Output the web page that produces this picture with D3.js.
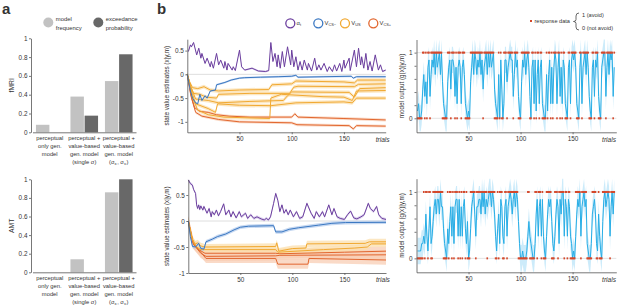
<!DOCTYPE html>
<html lang="en">
<head>
<meta charset="UTF-8">
<title>Model comparison and trial-wise estimates</title>
<script src="https://d3js.org/d3.v7.min.js"></script>
<style>
  body { margin: 0; background: #fff; }
  svg text { font-family: "Liberation Sans", Arial, sans-serif; fill: #333; }
</style>
</head>
<body>
<div id="chart"></div>
<script>
// ---------- panel a: model comparison ----------
const models = ["perc", "single", "dual"];
const modelLabels = [
  ["perceptual", "only gen.", "model"],
  ["perceptual +", "value-based", "gen. model", "(single σ)"],
  ["perceptual +", "value-based", "gen. model", "(σ_x, σ_v)"]
];
const fmriFreq = [0.08, 0.38, 0.545];
const fmriExc  = [0, 0.177, 0.83];
const amtFreq  = [0, 0.14, 0.86];
const amtExc   = [0, 0, 1.0];

// ---------- panel b: state value estimates, [trial, value] ----------
const alphaTop = [[1,0.48],[3,0.62],[4,0.58],[6,0.67],[9,0.41],[11,0.55],[13,0.34],[14,0.44],[17,0.23],[19,0.34],[22,0.16],[23,0.27],[25,0.13],[28,0.44],[30,0.2],[32,0.3],[35,0.13],[36,0.27],[38,0.09],[39,0.23],[43,0.09],[44,0.16],[46,0.08],[50,0.51],[52,0.16],[55,0.09],[62,0.13],[68,0.07],[75,0.06],[78,0.08],[80,0.67],[82,0.27],[84,0.44],[86,0.16],[87,0.41],[89,0.13],[91,0.48],[93,0.16],[96,0.58],[99,0.2],[100,0.51],[102,0.16],[104,0.37],[106,0.09],[108,0.27],[110,0.09],[112,0.3],[115,0.09],[116,0.23],[119,0.07],[122,0.34],[124,0.09],[126,0.2],[128,0.09],[131,0.23],[134,0.06],[136,0.16],[139,0.06],[141,0.2],[143,0.07],[146,0.23],[148,0.06],[150,0.3],[151,0.13],[155,0.34],[156,0.08],[160,0.51],[162,0.16],[164,0.55],[166,0.2],[167,0.37],[169,0.13],[171,0.44],[173,0.09],[175,0.27],[177,0.07],[180,0.41],[183,0.09],[185,0.2],[187,0.06],[190,0.09]];
const csmTop = [[0,0],[3,-0.35],[5,-0.5],[8,-0.6],[10,-0.62],[12,-0.42],[14,-0.55],[17,-0.45],[19,-0.5],[22,-0.35],[27,-0.33],[28,-0.22],[36,-0.17],[42,-0.12],[50,-0.08],[55,-0.07],[70,-0.06],[87,-0.05],[100,-0.04],[104,-0.02],[106,-0.06],[130,-0.05],[157,-0.04],[159,-0.08],[162,-0.05],[190,-0.05]];
const usTop = [
  [[0,0],[2,-0.15],[5,-0.28],[10,-0.3],[16,-0.26],[22,-0.33],[30,-0.35],[50,-0.33],[78,-0.32],[81,-0.22],[100,-0.2],[104,-0.14],[150,-0.16],[160,-0.18],[163,-0.12],[190,-0.12]],
  [[0,0],[3,-0.25],[6,-0.4],[12,-0.42],[18,-0.48],[28,-0.5],[30,-0.42],[60,-0.4],[98,-0.4],[102,-0.27],[106,-0.25],[160,-0.26],[164,-0.21],[190,-0.2]],
  [[0,0],[4,-0.3],[8,-0.52],[20,-0.55],[30,-0.6],[60,-0.57],[92,-0.55],[96,-0.45],[100,-0.37],[155,-0.38],[160,-0.48],[165,-0.3],[190,-0.28]],
  [[0,0],[4,-0.35],[8,-0.62],[20,-0.72],[27,-0.8],[29,-0.62],[50,-0.65],[80,-0.66],[104,-0.6],[150,-0.58],[158,-0.6],[162,-0.5],[190,-0.5]],
  [[0,0],[5,-0.5],[10,-0.75],[20,-0.85],[35,-0.9],[79,-0.93],[80,-0.5],[85,-0.46],[90,-0.42],[130,-0.47],[150,-0.48],[158,-0.55],[162,-0.35],[190,-0.34]]
];
const cspTop = [
  [[0,0],[3,-0.4],[7,-0.7],[12,-0.78],[20,-0.8],[28,-0.85],[40,-0.88],[60,-0.9],[100,-0.9],[103,-0.83],[106,-0.9],[150,-0.93],[190,-0.96]],
  [[0,0],[4,-0.5],[8,-0.8],[14,-0.88],[30,-0.95],[50,-1.0],[100,-1.02],[105,-1.06],[155,-1.08],[159,-1.15],[162,-1.08],[190,-1.09]]
];

const alphaBot = [[0,0.79],[2,0.72],[4,0.69],[5,0.61],[7,0.53],[8,0.31],[9,0.24],[10,0.31],[11,0.22],[12,0.29],[14,0.21],[15,0.28],[18,0.15],[20,0.24],[22,0.08],[23,0.18],[25,0.12],[27,0.21],[29,0.1],[31,0.18],[34,0.33],[36,0.12],[39,0.21],[41,0.08],[43,0.18],[46,0.06],[49,0.18],[51,0.08],[55,0.15],[57,0.05],[60,0.12],[63,0.05],[66,0.08],[70,0.04],[73,0.02],[75,0.05],[77,0.02],[79,0.08],[82,0.34],[84,0.53],[86,0.4],[88,0.18],[90,0.31],[92,0.15],[94,0.22],[96,0.12],[98,0.21],[101,0.08],[104,0.18],[107,0.05],[110,0.08],[114,0.34],[118,0.15],[121,0.05],[123,0.18],[126,0.08],[129,0.18],[131,0.08],[135,0.31],[138,0.12],[140,0.24],[143,0.08],[146,0.05],[150,0.03],[153,0.12],[156,0.19],[159,0.06],[162,0.04],[166,0.08],[169,0.12],[173,0.34],[175,0.24],[178,0.18],[181,0.28],[183,0.12],[186,0.05],[190,0.03]];
const csmBot = [[0,0],[2,-0.3],[4,-0.49],[7,-0.5],[10,-0.43],[12,-0.53],[15,-0.54],[17,-0.4],[23,-0.35],[28,-0.3],[36,-0.25],[44,-0.17],[50,-0.12],[58,-0.1],[82,-0.09],[84,-0.21],[90,-0.21],[97,-0.16],[106,-0.13],[125,-0.08],[138,-0.045],[151,-0.03],[190,-0.025]];
const usBot = [
  [[0,0],[3,-0.3],[6,-0.45],[9,-0.42],[12,-0.48],[16,-0.5],[84,-0.49],[85,-0.42],[87,-0.58],[100,-0.53],[113,-0.52],[114,-0.44],[170,-0.43],[174,-0.4],[190,-0.4]],
  [[0,0],[4,-0.35],[8,-0.5],[12,-0.55],[16,-0.55],[84,-0.55],[86,-0.6],[130,-0.55],[160,-0.52],[172,-0.5],[176,-0.44],[190,-0.44]]
];
const cspBot = [
  [[0,0],[4,-0.4],[10,-0.55],[16,-0.62],[84,-0.62],[88,-0.63],[150,-0.6],[190,-0.58]],
  [[0,0],[5,-0.45],[12,-0.6],[17,-0.72],[84,-0.72],[86,-0.83],[115,-0.83],[116,-0.72],[190,-0.75]],
  [[0,0],[5,-0.45],[12,-0.62],[17,-0.68],[84,-0.67],[88,-0.66],[190,-0.65]]
];
// band half-widths
const ciTop = { alpha: 0.02, csm: 0.02, us: 0.04, csp: 0.03 };
const ciBot = { alpha: 0.03, csm: 0.035, us: 0.06, csp: 0.09 };

// ---------- right panels: responses (1 = avoid) and model output in ninths ----------
const respTop = ["0000011010","1101111111","1111000001","1101110101","1101110000","0111111111","1110111111","1111000010","1001110111","1101111000","1111111100","1101011011","0000101101","0111011010","1100011011","1110001101","1111100011","0111000111","1011111101"].join("");
const outTop  = ["1200146352","7836879697","8969521005","7848873727","8727862101","0579698687","9684789697","9789421060","8402885789","8836978310","5879689730","7828168278","2100616827","2798279372","8721078289","8972107927","8969731078","3879310789","9379698937"].join("");
const respBot = ["0000001011","0110011111","1111100001","0110101110","1010110100","0111110111","1111111011","1111100101","1100110111","1111111000","0000001100","0001101110","1000111110","0011101111","1011011000","0011111011","1110000011","1100100011","1111101111"].join("");
const outBot  = ["1111223263","1472357868","8697742104","2573727883","8373784250","1478963778","8697968789","9798631462","8732783789","8689798520","0100013532","1002683783","8310368785","2136872869","9387387320","1036879378","9782100267","8621631058","9789837969"].join("");
const outCI = 0.2;

const col = {
  light: "#c2c2c2", dark: "#686868",
  alpha: "#6b3e9e", alphaBand: "#d3c5e8",
  csm: "#3b78c2", csmBand: "#b3cbec",
  us: "#f1a932", usBand: "#fbdfae",
  csp: "#e2672f", cspBand: "#f8cdb4",
  out: "#28aee6", outBand: "#c6e9f9",
  resp: "#d4482b", axis: "#555"
};
const FONT = "'Liberation Sans', Arial, sans-serif";

const svg = d3.select("#chart").append("svg").attr("width", 617).attr("height", 307);

function styleAxis(g) {
  g.attr("font-family", FONT).attr("font-size", 6.4);
  g.selectAll("path.domain").attr("stroke", col.axis).attr("stroke-width", 0.8);
  g.selectAll(".tick line").attr("stroke", col.axis).attr("stroke-width", 0.8);
  g.selectAll(".tick text").attr("fill", "#333");
}

// text with "_x" subscripts
function richText(sel, str, subSize) {
  str.split(/(_[^ ,)]+)/).forEach(part => {
    if (!part) return;
    if (part[0] === "_") {
      sel.append("tspan").attr("dy", 1.3).attr("font-size", subSize).text(part.slice(1));
      sel.append("tspan").attr("dy", -1.3).text("\u200a");
    } else {
      sel.append("tspan").text(part);
    }
  });
}

// ---------- panel a ----------
function barPanel(top, bottom, freq, exc, label) {
  const x = d3.scaleBand().domain(models).range([32.5, 136]).paddingInner(0.2).paddingOuter(0.1);
  const xs = d3.scaleBand().domain(["freq", "exc"]).range([0, x.bandwidth()]).paddingInner(0.05);
  const y = d3.scaleLinear().domain([0, 1]).range([bottom, top]);
  const g = svg.append("g");
  models.forEach((m, i) => {
    [["freq", freq[i], col.light], ["exc", exc[i], col.dark]].forEach(([k, v, c]) => {
      g.append("rect").attr("x", x(m) + xs(k)).attr("width", xs.bandwidth())
        .attr("y", y(v)).attr("height", y(0) - y(v)).attr("fill", c);
    });
  });
  g.append("g").attr("transform", "translate(31,0)")
    .call(d3.axisLeft(y).tickValues([0, 0.2, 0.4, 0.6, 0.8, 1]).tickSize(2).tickPadding(1.5)
      .tickSizeOuter(0).tickFormat(d => String(d)))
    .call(styleAxis);
  g.append("g").attr("transform", `translate(0,${bottom})`)
    .call(d3.axisBottom(x).tickSize(0).tickSizeOuter(0).tickFormat(""))
    .call(styleAxis);
  models.forEach((m, i) => {
    modelLabels[i].forEach((ln, j) => {
      const t = g.append("text").attr("x", x(m) + x.bandwidth() / 2).attr("y", bottom + 7.2 + j * 8)
        .attr("text-anchor", "middle").attr("font-size", 5.8);
      richText(t, ln, 4.2);
    });
  });
  g.append("text").attr("transform", `translate(14,${(top + bottom) / 2}) rotate(-90)`)
    .attr("text-anchor", "middle").attr("font-size", 6.8).text(label);
}
barPanel(38.3, 132.3, fmriFreq, fmriExc, "fMRI");
barPanel(179.3, 272.3, amtFreq, amtExc, "AMT");

// panel a legend
const legA = [["model", "frequency", col.light, 48.3], ["exceedance", "probability", col.dark, 98.3]];
legA.forEach(([l1, l2, c, cx]) => {
  svg.append("circle").attr("cx", cx).attr("cy", 22.5).attr("r", 5).attr("fill", c);
  svg.append("text").attr("x", cx + 7.5).attr("y", 21.3).attr("font-size", 5.9).text(l1);
  svg.append("text").attr("x", cx + 7.5).attr("y", 29.5).attr("font-size", 5.9).text(l2);
});
svg.append("text").attr("x", 2).attr("y", 14).attr("font-size", 15).attr("font-weight", "bold").text("a");
svg.append("text").attr("x", 157).attr("y", 14).attr("font-size", 15).attr("font-weight", "bold").text("b");

// ---------- panel b: state value estimates ----------
function valuePanel(o) {
  const x = d3.scaleLinear().domain([0, 190]).range(o.xr);
  const y = d3.scaleLinear().domain(o.yd).range(o.yr).clamp(true);
  const g = svg.append("g");
  g.append("line").attr("x1", x(0)).attr("x2", x(190)).attr("y1", y(0)).attr("y2", y(0))
    .attr("stroke", "#d6d6d6").attr("stroke-width", 0.8);
  const band = hw => d3.area().x(d => x(d[0])).y0(d => y(d[1] - hw)).y1(d => y(d[1] + hw));
  const line = d3.line().x(d => x(d[0])).y(d => y(d[1]));
  const groups = [
    [o.csp, col.csp, col.cspBand, o.ci.csp],
    [o.us, col.us, col.usBand, o.ci.us],
    [[o.csm], col.csm, col.csmBand, o.ci.csm],
    [[o.alpha], col.alpha, col.alphaBand, o.ci.alpha]
  ];
  groups.forEach(([set, c, bc, hw]) => set.forEach(s =>
    g.append("path").attr("d", band(hw)(s)).attr("fill", bc).attr("opacity", 0.75)));
  groups.forEach(([set, c]) => set.forEach(s =>
    g.append("path").attr("d", line(s)).attr("fill", "none").attr("stroke", c).attr("stroke-width", 1)));
  g.append("g").attr("transform", `translate(${o.xr[0]},0)`)
    .call(d3.axisLeft(y).tickValues([-1, -0.5, 0, 0.5]).tickSize(2).tickPadding(1.5).tickSizeOuter(0)
      .tickFormat(d => String(d)))
    .call(styleAxis);
  g.append("g").attr("transform", `translate(0,${o.yr[0]})`)
    .call(d3.axisBottom(x).tickValues([50, 100, 150]).tickSize(2).tickPadding(2).tickSizeOuter(0))
    .call(styleAxis);
  g.append("text").attr("x", o.xr[1] - 10).attr("y", o.yr[0] + 9.3).attr("font-size", 6.6)
    .attr("font-style", "italic").text("trials");
  g.append("text").attr("transform", `translate(169,${(o.yr[0] + o.yr[1]) / 2}) rotate(-90)`)
    .attr("text-anchor", "middle").attr("font-size", 6.3).text("state value estimates (x|y,m)");
}
valuePanel({ xr: [187.3, 385.7], yd: [-1.22, 0.74], yr: [132.3, 39.2],
  alpha: alphaTop, csm: csmTop, us: usTop, csp: cspTop, ci: ciTop });
valuePanel({ xr: [188.3, 386], yd: [-1, 0.8], yr: [273, 179.4],
  alpha: alphaBot, csm: csmBot, us: usBot, csp: cspBot, ci: ciBot });

// panel b legend
const legB = [["α_t", col.alpha, 290.3], ["V_CS−", col.csm, 318.3], ["V_US", col.us, 345], ["V_CS+", col.csp, 373.3]];
legB.forEach(([name, c, cx]) => {
  svg.append("circle").attr("cx", cx).attr("cy", 23.3).attr("r", 4.5)
    .attr("fill", "#fff").attr("stroke", c).attr("stroke-width", 1.3);
  const t = svg.append("text").attr("x", cx + 6.3).attr("y", 25).attr("font-size", 5.8);
  richText(t, name, 3.9);
});

// ---------- right panels: model output ----------
function outputPanel(o) {
  const trials = d3.range(1, o.resp.length + 1);
  const out = trials.map((t, i) => [t, +o.out[i] / 9]);
  const resp = trials.map((t, i) => [t, +o.resp[i]]);
  const x = d3.scaleLinear().domain([0, 192]).range(o.xr);
  const y = d3.scaleLinear().domain(o.yd).range(o.yr).clamp(true);
  const g = svg.append("g");
  [0, 1].forEach(v => g.append("line").attr("x1", x(0)).attr("x2", x(192)).attr("y1", y(v)).attr("y2", y(v))
    .attr("stroke", "#dcdcdc").attr("stroke-width", 0.8));
  g.append("path").attr("d", d3.area().x(d => x(d[0])).y0(d => y(d[1] - outCI)).y1(d => y(d[1] + outCI))(out))
    .attr("fill", col.outBand).attr("opacity", 0.9);
  g.append("path").attr("d", d3.line().x(d => x(d[0])).y(d => y(d[1]))(out))
    .attr("fill", "none").attr("stroke", col.out).attr("stroke-width", 1);
  g.selectAll("rect.r").data(resp).join("rect").attr("class", "r")
    .attr("x", d => x(d[0]) - 0.8).attr("y", d => y(d[1]) - 1).attr("width", 1.6).attr("height", 2)
    .attr("fill", col.resp);
  g.append("g").attr("transform", `translate(${o.xr[0]},0)`)
    .call(d3.axisLeft(y).tickValues([0, 0.2, 0.4, 0.6, 0.8, 1]).tickSize(2).tickPadding(2).tickSizeOuter(0)
      .tickFormat(d => (d === 0 || d === 1) ? String(d) : ""))
    .call(styleAxis);
  g.append("g").attr("transform", `translate(0,${o.yr[0]})`)
    .call(d3.axisBottom(x).tickValues([50, 100, 150]).tickSize(2).tickPadding(2).tickSizeOuter(0))
    .call(styleAxis);
  g.append("text").attr("x", 616).attr("y", o.yr[0] + 9.3).attr("text-anchor", "end").attr("font-size", 6.6)
    .attr("font-style", "italic").text("trials");
  g.append("text").attr("transform", `translate(404,${(o.yr[0] + o.yr[1]) / 2}) rotate(-90)`)
    .attr("text-anchor", "middle").attr("font-size", 6.3).text("model output (g(x)|y,m)");
}
outputPanel({ xr: [416.5, 616.3], yd: [-0.213, 1.2], yr: [132.3, 39.5], resp: respTop, out: outTop });
outputPanel({ xr: [416.5, 616.3], yd: [-0.21, 1.2], yr: [272.3, 178.7], resp: respBot, out: outBot });

// right legend
svg.append("rect").attr("x", 530).attr("y", 20).attr("width", 2).attr("height", 2).attr("fill", col.resp);
svg.append("text").attr("x", 534.5).attr("y", 23).attr("font-size", 5.6).text("response data");
svg.append("path").attr("d", "M579,13 Q576,13 576,16 L576,19.5 Q576,21.5 573.5,21.5 Q576,21.5 576,23.5 L576,27 Q576,30 579,30")
  .attr("fill", "none").attr("stroke", "#444").attr("stroke-width", 0.8);
svg.append("text").attr("x", 582).attr("y", 17).attr("font-size", 5.6).text("1 (avoid)");
svg.append("text").attr("x", 582).attr("y", 29.5).attr("font-size", 5.6).text("0 (not avoid)");
</script>
</body>
</html>
